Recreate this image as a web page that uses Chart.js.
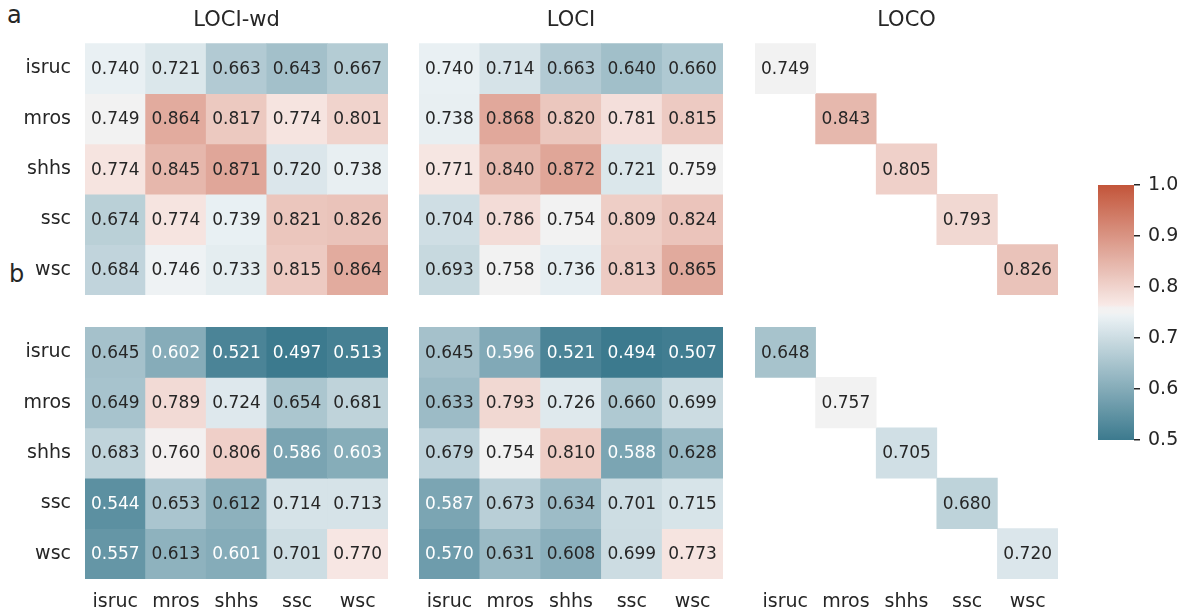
<!DOCTYPE html>
<html>
<head>
<meta charset="utf-8">
<script src="https://cdn.jsdelivr.net/npm/chart.js@4.4.1/dist/chart.umd.min.js"></script>
<style>
  body { margin: 0; background: #fff; width: 1187px; height: 616px; position: relative; overflow: hidden;
         font-family: "DejaVu Sans", sans-serif; color: #262626; }
  canvas { position: absolute; }
  .tag { position: absolute; font-size: 24px; line-height: 1; }
</style>
</head>
<body>
<div class="tag" style="left:7px;top:3px">a</div>
<div class="tag" style="left:9px;top:262px">b</div>

<canvas id="wdA" width="388" height="295" style="left:0;top:0"></canvas>
<canvas id="lociA" width="304" height="295" style="left:419px;top:0"></canvas>
<canvas id="locoA" width="303" height="295" style="left:755px;top:0"></canvas>
<canvas id="wdB" width="388" height="289" style="left:0;top:327px"></canvas>
<canvas id="lociB" width="304" height="289" style="left:419px;top:327px"></canvas>
<canvas id="locoB" width="303" height="289" style="left:755px;top:327px"></canvas>
<canvas id="cbar" width="90" height="275" style="left:1098px;top:175px"></canvas>

<script>
// datasets used for train (rows) and test (columns)
const sets = ['isruc', 'mros', 'shhs', 'ssc', 'wsc'];

// a: LOCI-wd
const wdA = [
  [0.740, 0.721, 0.663, 0.643, 0.667],
  [0.749, 0.864, 0.817, 0.774, 0.801],
  [0.774, 0.845, 0.871, 0.720, 0.738],
  [0.674, 0.774, 0.739, 0.821, 0.826],
  [0.684, 0.746, 0.733, 0.815, 0.864]
];
// a: LOCI
const lociA = [
  [0.740, 0.714, 0.663, 0.640, 0.660],
  [0.738, 0.868, 0.820, 0.781, 0.815],
  [0.771, 0.840, 0.872, 0.721, 0.759],
  [0.704, 0.786, 0.754, 0.809, 0.824],
  [0.693, 0.758, 0.736, 0.813, 0.865]
];
// a: LOCO (diagonal only)
const locoA = [0.749, 0.843, 0.805, 0.793, 0.826];

// b: LOCI-wd
const wdB = [
  [0.645, 0.602, 0.521, 0.497, 0.513],
  [0.649, 0.789, 0.724, 0.654, 0.681],
  [0.683, 0.760, 0.806, 0.586, 0.603],
  [0.544, 0.653, 0.612, 0.714, 0.713],
  [0.557, 0.613, 0.601, 0.701, 0.770]
];
// b: LOCI
const lociB = [
  [0.645, 0.596, 0.521, 0.494, 0.507],
  [0.633, 0.793, 0.726, 0.660, 0.699],
  [0.679, 0.754, 0.810, 0.588, 0.628],
  [0.587, 0.673, 0.634, 0.701, 0.715],
  [0.570, 0.631, 0.608, 0.699, 0.773]
];
// b: LOCO (diagonal only)
const locoB = [0.648, 0.757, 0.705, 0.680, 0.720];

const vmin = 0.5, vmax = 1.0;
const colorbarTicks = [0.5, 0.6, 0.7, 0.8, 0.9, 1.0];

const FONT = '"DejaVu Sans", sans-serif';
const INK = '#262626';

// blue -> light grey -> red diverging map
const stops = [
  [0.5,   [60, 122, 142]],
  [0.744, [236, 242, 245]],
  [0.749, [242, 242, 242]],
  [0.759, [242, 242, 242]],
  [0.764, [248, 234, 231]],
  [1.0,   [195, 85, 58]]
];
function cmapRGB(v) {
  v = Math.max(vmin, Math.min(vmax, v));
  for (let k = 1; k < stops.length; k++) {
    const [v1, c1] = stops[k];
    const [v0, c0] = stops[k - 1];
    if (v <= v1) {
      const t = (v - v0) / (v1 - v0);
      return c0.map((c, i) => Math.round(c + t * (c1[i] - c)));
    }
  }
  return stops[stops.length - 1][1];
}
const cmap = v => 'rgb(' + cmapRGB(v).join(',') + ')';

function textColor(v) {
  const lin = cmapRGB(v).map(c => {
    c /= 255;
    return c <= 0.03928 ? c / 12.92 : Math.pow((c + 0.055) / 1.055, 2.4);
  });
  const lum = 0.2126 * lin[0] + 0.7152 * lin[1] + 0.0722 * lin[2];
  return lum > 0.395 ? INK : '#ffffff';
}

const diagMatrix = d => d.map((v, i) => d.map((_, j) => (i === j ? v : null)));

// no extra room for half-labels at the axis ends
function noEdgePadding(s) {
  s.paddingTop = 0; s.paddingBottom = 0; s.paddingLeft = 0; s.paddingRight = 0;
}

const cellText = {
  id: 'cellText',
  afterDatasetsDraw(chart) {
    const ctx = chart.ctx;
    ctx.save();
    ctx.font = '17px ' + FONT;
    ctx.textAlign = 'center';
    ctx.textBaseline = 'middle';
    chart.data.datasets.forEach((ds, i) => {
      chart.getDatasetMeta(i).data.forEach((bar, j) => {
        const v = ds.cells[j];
        if (v == null) return;
        const p = bar.getCenterPoint();
        ctx.fillStyle = textColor(v);
        ctx.fillText(v.toFixed(3), p.x, p.y + 1);
      });
    });
    ctx.restore();
  }
};

function heatmap(id, matrix, title, showY, showX) {
  const datasets = matrix.map((row, r) => ({
    data: row.map(v => (v == null ? null : [r, r + 1])),
    cells: row,
    backgroundColor: row.map(v => (v == null ? 'rgba(0,0,0,0)' : cmap(v))),
    borderWidth: 0,
    grouped: false,
    barPercentage: 1,
    categoryPercentage: 1
  }));
  new Chart(document.getElementById(id), {
    type: 'bar',
    data: { labels: sets, datasets },
    options: {
      responsive: false,
      animation: false,
      layout: { padding: 0 },
      plugins: {
        legend: { display: false },
        tooltip: { enabled: false },
        title: {
          display: !!title,
          fullSize: false,
          text: title,
          color: INK,
          font: { family: FONT, size: 21, weight: 'normal', lineHeight: 1.2 },
          padding: { top: 8, bottom: 10 }
        }
      },
      scales: {
        x: {
          display: showX,
          grid: { display: false, drawTicks: false },
          border: { display: false },
          ticks: { color: INK, font: { family: FONT, size: 19 }, padding: 12, maxRotation: 0, autoSkip: false },
          afterFit: s => { if (showX) s.height = 37; noEdgePadding(s); }
        },
        y: {
          display: showY,
          min: 0,
          max: sets.length,
          reverse: true,
          grid: { display: false, drawTicks: false },
          border: { display: false },
          afterBuildTicks: axis => { axis.ticks = sets.map((_, i) => ({ value: i + 0.5 })); },
          ticks: {
            color: INK,
            font: { family: FONT, size: 19 },
            padding: 14,
            callback: (v, i) => sets[i]
          },
          afterFit: s => { if (showY) s.width = 85; noEdgePadding(s); }
        }
      }
    },
    plugins: [cellText]
  });
}

heatmap('wdA', wdA, 'LOCI-wd', true, false);
heatmap('lociA', lociA, 'LOCI', false, false);
heatmap('locoA', diagMatrix(locoA), 'LOCO', false, false);
heatmap('wdB', wdB, '', true, true);
heatmap('lociB', lociB, '', false, true);
heatmap('locoB', diagMatrix(locoB), '', false, true);

// colour bar
new Chart(document.getElementById('cbar'), {
  type: 'bar',
  data: {
    labels: [''],
    datasets: [{
      data: [[vmin, vmax]],
      borderWidth: 0,
      barPercentage: 1,
      categoryPercentage: 1,
      backgroundColor: c => {
        const area = c.chart.chartArea;
        if (!area) return cmap(vmin);
        const g = c.chart.ctx.createLinearGradient(0, area.bottom, 0, area.top);
        for (let k = 0; k <= 100; k++) {
          g.addColorStop(k / 100, cmap(vmin + (vmax - vmin) * k / 100));
        }
        return g;
      }
    }]
  },
  options: {
    responsive: false,
    animation: false,
    layout: { padding: { top: 10, bottom: 10 } },
    plugins: { legend: { display: false }, tooltip: { enabled: false } },
    scales: {
      x: { display: false },
      y: {
        position: 'right',
        min: vmin,
        max: vmax,
        afterBuildTicks: axis => { axis.ticks = colorbarTicks.map(value => ({ value })); },
        grid: { drawOnChartArea: false, drawTicks: true, tickLength: 6, color: INK, lineWidth: 1.5 },
        border: { display: false },
        ticks: { color: INK, font: { family: FONT, size: 19 }, padding: 8, callback: v => v.toFixed(1) },
        afterFit: s => { s.width = 54; noEdgePadding(s); }
      }
    }
  }
});
</script>
</body>
</html>
